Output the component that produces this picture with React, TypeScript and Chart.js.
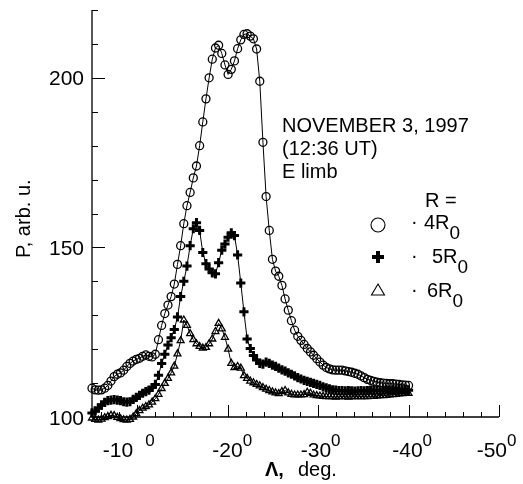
import React, { useEffect, useRef } from "react";
import { Chart, registerables } from "chart.js";

Chart.register(...registerables);

const FONT = '"Liberation Sans", Arial, Helvetica, sans-serif';

// Longitude (degrees, shown as negative on the axis)
const lambdaDeg = [
  5.0, 5.35, 5.7, 6.05, 6.4, 6.75, 7.1, 7.45, 7.8, 8.15,
  8.5, 8.85, 9.2, 9.55, 9.9, 10.25, 10.6, 10.95, 11.3, 11.65,
  12.0, 12.35, 12.7, 13.05, 13.4, 13.75, 14.1, 14.45, 14.8, 15.15,
  15.5, 15.85, 16.2, 16.55, 16.9, 17.25, 17.6, 17.95, 18.3, 18.65,
  19.0, 19.35, 19.7, 20.05, 20.4, 20.75, 21.1, 21.45, 21.8, 22.15,
  22.5, 22.85, 23.2, 23.55, 23.9, 24.25, 24.6, 24.95, 25.3, 25.65,
  26.0, 26.35, 26.7, 27.05, 27.4, 27.75, 28.1, 28.45, 28.8, 29.15,
  29.5, 29.85, 30.2, 30.55, 30.9, 31.25, 31.6, 31.95, 32.3, 32.65,
  33.0, 33.35, 33.7, 34.05, 34.4, 34.75, 35.1, 35.45, 35.8, 36.15,
  36.5, 36.85, 37.2, 37.55, 37.9, 38.25, 38.6, 38.95, 39.3, 39.65,
  40.0,
];

// R = 4 R0 (circles)
const p4R = [
  108.5, 108.0, 107.9, 108.0, 108.5, 109.3, 110.6, 111.9, 112.6, 113.0,
  113.8, 114.9, 115.8, 116.5, 117.0, 117.3, 117.9, 118.3, 117.9, 117.7,
  118.5, 122.8, 127.0, 130.5, 133.0, 135.5, 139.2, 145.0, 150.5, 157.0,
  162.3, 166.2, 170.5, 174.0, 180.0, 187.0, 193.8, 200.0, 205.5, 208.8,
  209.6, 207.2, 203.8, 201.0, 202.5, 205.0, 208.6, 211.2, 212.8, 213.0,
  212.3, 211.5, 208.5, 199.0, 181.0, 165.0, 155.0, 146.5, 143.0, 141.5,
  138.8, 134.8, 131.5, 128.4, 125.6, 123.8, 122.6, 121.4, 120.2, 119.2,
  118.2, 117.2, 116.2, 115.3, 114.6, 114.2, 113.9, 113.8, 113.8, 113.8,
  113.6, 113.4, 113.2, 112.9, 112.6, 112.1, 111.6, 111.1, 110.8, 110.5,
  110.3, 110.1, 110.0, 109.9, 109.8, 109.8, 109.7, 109.6, 109.5, 109.4,
  109.3,
];

// R = 5 R0 (crosses)
const p5R = [
  101.2, 101.8, 102.6, 103.6, 104.3, 104.8, 105.0, 105.1, 105.0, 104.8,
  104.5, 104.4, 104.5, 105.2, 105.8, 106.4, 107.0, 107.5, 107.9, 108.7,
  109.6, 112.3, 115.8, 118.5, 121.2, 123.4, 125.8, 129.5, 135.5, 140.0,
  144.5, 150.5, 155.5, 157.3, 155.0, 148.5, 145.2, 143.6, 142.5, 142.2,
  145.5, 149.2, 151.0, 153.0, 154.3, 153.5, 147.8, 139.5, 131.0, 123.0,
  120.2, 118.1, 116.8, 115.8, 115.6, 116.2, 115.8, 115.3, 114.9, 114.4,
  113.9, 113.5, 113.0, 112.6, 112.1, 111.6, 111.2, 110.8, 110.5, 110.2,
  109.9, 109.6, 109.3, 108.9, 108.6, 108.3, 108.0, 107.9, 107.8, 107.8,
  107.7, 107.8, 107.7, 107.6, 107.7, 107.8, 107.7, 107.8, 107.9, 107.8,
  107.9, 107.8, 107.9, 108.0, 107.9, 108.0, 107.9, 108.0, 107.9, 108.0,
  107.9,
];

// R = 6 R0 (triangles)
const p6R = [
  99.7, 99.3, 99.1, 99.4, 99.8, 100.1, 100.5, 100.4, 99.9, 99.5,
  99.2, 99.1, 99.3, 100.0, 101.0, 101.9, 102.6, 103.1, 103.6, 104.4,
  105.4, 106.7, 108.4, 109.9, 111.4, 113.0, 115.0, 118.6, 122.5, 128.6,
  127.0, 124.6, 122.8, 121.6, 120.8, 120.3, 120.5, 121.6, 123.0, 125.2,
  127.6, 126.0, 123.5, 120.0, 115.8, 114.6, 114.9, 114.4, 112.2, 111.4,
  110.6, 110.1, 109.6, 109.2, 108.7, 108.2, 107.8, 107.4, 107.1, 106.9,
  107.5, 107.8, 107.1, 106.7, 106.5, 106.5, 106.5, 106.6, 107.3, 107.0,
  106.5, 106.3, 106.2, 106.1, 106.0, 106.0, 106.0, 105.9, 106.0, 106.0,
  106.0, 105.9, 106.0, 106.0, 106.0, 106.0, 106.0, 106.0, 106.1, 106.1,
  106.2, 106.3, 106.3, 106.4, 106.5, 106.6, 106.7, 106.8, 106.9, 107.0,
  107.0,
];

const xLabelValues = [10, 20, 30, 40, 50];
const xLabelTexts = ["-10", "-20", "-30", "-40", "-50"];
const yLabelValues = [100, 150, 200];
const yLabelTexts = ["100", "150", "200"];
const infoLines = ["NOVEMBER 3, 1997", "(12:36 UT)", "E limb"];
const legendHeader = "R =";
const legendTexts = ["4R", "5R", "6R"];
const legendSub = "0";

const X_MIN = 5, X_MAX = 50, Y_MIN = 100, Y_MAX = 220;

const paperPlugin = {
  id: "paperAxes",
  beforeDatasetsDraw(chart: any) {
    const { ctx, chartArea: a, scales } = chart;
    const x = scales.x, y = scales.y;
    ctx.save();
    ctx.strokeStyle = "#000";
    ctx.lineWidth = 1.3;
    ctx.beginPath();
    ctx.moveTo(a.left, a.top);
    ctx.lineTo(a.left, a.bottom);
    ctx.lineTo(a.right, a.bottom);
    ctx.stroke();
    ctx.lineWidth = 1;
    for (let v = Y_MIN; v <= Y_MAX; v += 10) {
      const py = Math.round(y.getPixelForValue(v)) + 0.5;
      const len = v % 50 === 0 ? 13 : 6;
      ctx.beginPath();
      ctx.moveTo(a.left, py);
      ctx.lineTo(a.left + len, py);
      ctx.stroke();
    }
    for (let v = 6; v <= X_MAX; v += 2) {
      const px = Math.round(x.getPixelForValue(v)) + 0.5;
      const len = v % 10 === 0 ? 12 : 5;
      ctx.beginPath();
      ctx.moveTo(px, a.bottom);
      ctx.lineTo(px, a.bottom - len);
      ctx.stroke();
    }
    ctx.restore();
  },
  afterDraw(chart: any) {
    const { ctx, chartArea: a, scales } = chart;
    const x = scales.x, y = scales.y;
    ctx.save();
    ctx.fillStyle = "#000";
    ctx.textBaseline = "alphabetic";

    // y tick labels
    ctx.font = `21px ${FONT}`;
    ctx.textAlign = "right";
    yLabelValues.forEach((v, i) => {
      const py = y.getPixelForValue(v);
      ctx.fillText(yLabelTexts[i], a.left - 8, py + 7.5);
    });

    // x tick labels with superscript degree "0"
    const mainOff = [-4, 15, 13, 14, 8];
    const supOff = [8, 15, 13, 14, 8];
    xLabelValues.forEach((v, i) => {
      const px = x.getPixelForValue(v);
      ctx.font = `21px ${FONT}`;
      ctx.textAlign = "right";
      ctx.fillText(xLabelTexts[i], px + mainOff[i], a.bottom + 40);
      ctx.font = `17px ${FONT}`;
      ctx.textAlign = "left";
      ctx.fillText("0", px + supOff[i], a.bottom + 29);
    });

    // x title
    ctx.textAlign = "left";
    ctx.font = `bold 20px ${FONT}`;
    ctx.fillText("\u039B,", 265, a.bottom + 59);
    ctx.font = `20px ${FONT}`;
    ctx.fillText("deg.", 298, a.bottom + 59);

    // y title
    ctx.save();
    ctx.translate(30, 258);
    ctx.rotate(-Math.PI / 2);
    ctx.font = `20px ${FONT}`;
    ctx.textAlign = "left";
    ctx.fillText("P, arb. u.", 0, 0);
    ctx.restore();

    // info text
    ctx.font = `20px ${FONT}`;
    ctx.textAlign = "left";
    infoLines.forEach((t, i) => ctx.fillText(t, 282, 132 + i * 23));
    ctx.fillText(legendHeader, 425, 207);

    // legend
    const rows = [
      { cy: 225, tx: 424, base: 229 },
      { cy: 257, tx: 432, base: 263 },
      { cy: 290, tx: 427, base: 297 },
    ];
    const sx = 378;
    ctx.strokeStyle = "#000";
    ctx.lineWidth = 1.1;
    ctx.beginPath();
    ctx.arc(sx, rows[0].cy, 7, 0, Math.PI * 2);
    ctx.stroke();
    ctx.lineWidth = 4;
    ctx.beginPath();
    ctx.moveTo(sx - 6, rows[1].cy);
    ctx.lineTo(sx + 6, rows[1].cy);
    ctx.moveTo(sx, rows[1].cy - 6);
    ctx.lineTo(sx, rows[1].cy + 6);
    ctx.stroke();
    ctx.lineWidth = 1.1;
    ctx.beginPath();
    ctx.moveTo(sx, rows[2].cy - 6);
    ctx.lineTo(sx + 6.5, rows[2].cy + 5);
    ctx.lineTo(sx - 6.5, rows[2].cy + 5);
    ctx.closePath();
    ctx.stroke();

    rows.forEach((r, i) => {
      ctx.font = `20px ${FONT}`;
      ctx.fillText("\u00B7", 411, r.base - 1);
      ctx.fillText(legendTexts[i], r.tx, r.base);
      const w = ctx.measureText(legendTexts[i]).width;
      ctx.font = `19px ${FONT}`;
      ctx.fillText(legendSub, r.tx + w, r.base + 10);
    });

    ctx.restore();
  },
};

export default function App() {
  const ref = useRef<HTMLCanvasElement | null>(null);
  useEffect(() => {
    if (!ref.current) return;
    const mk = (arr: number[]) => lambdaDeg.map((xv, i) => ({ x: xv, y: arr[i] }));
    const common = {
      borderColor: "#000",
      borderWidth: 1,
      tension: 0,
      clip: false as any,
      pointBorderColor: "#000",
      pointBackgroundColor: "rgba(0,0,0,0)",
      showLine: true,
    };
    const chart = new Chart(ref.current, {
      type: "line",
      data: {
        datasets: [
          { ...common, label: "4R0", data: mk(p4R), pointStyle: "circle", pointRadius: 4, pointBorderWidth: 1.3 },
          { ...common, label: "5R0", data: mk(p5R), pointStyle: "cross", pointRadius: 4.6, pointBorderWidth: 3 },
          { ...common, label: "6R0", data: mk(p6R), pointStyle: "triangle", pointRadius: 4, pointBorderWidth: 1.3 },
        ],
      },
      options: {
        animation: false,
        responsive: false,
        events: [],
        layout: { padding: { left: 92, top: 10, right: 24, bottom: 67 } },
        plugins: { legend: { display: false }, tooltip: { enabled: false } },
        scales: {
          x: { type: "linear", min: X_MIN, max: X_MAX, display: false },
          y: { type: "linear", min: Y_MIN, max: Y_MAX, display: false },
        },
      },
      plugins: [paperPlugin],
    });
    return () => chart.destroy();
  }, []);
  return (
    <div style={{ position: "absolute", left: 0, top: 0, width: 523, height: 484, background: "#fff" }}>
      <canvas ref={ref} width={523} height={484} style={{ display: "block", width: 523, height: 484 }} />
    </div>
  );
}
